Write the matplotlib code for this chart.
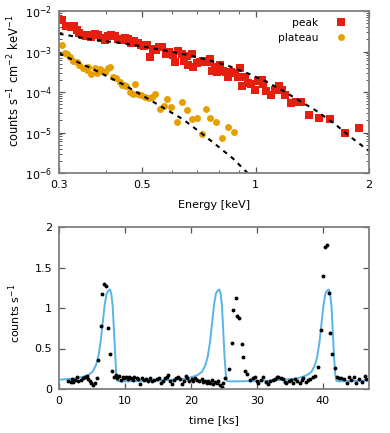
import matplotlib
matplotlib.use('Agg')
import matplotlib.pyplot as plt
from matplotlib.ticker import LogLocator, NullFormatter

# ---- spectrum: peak / plateau (energy in keV, counts s^-1 cm^-2 keV^-1)
peak_E = [0.306, 0.314, 0.322, 0.329, 0.334, 0.340, 0.347, 0.354, 0.360, 0.366,
          0.373, 0.381, 0.389, 0.397, 0.405, 0.413, 0.422, 0.430, 0.439, 0.448,
          0.457, 0.467, 0.476, 0.486, 0.496, 0.506, 0.515, 0.522, 0.533, 0.544,
          0.554, 0.562, 0.577, 0.589, 0.604, 0.610, 0.622, 0.635, 0.644, 0.655,
          0.661, 0.675, 0.682, 0.696, 0.710, 0.725, 0.740, 0.755, 0.763, 0.779,
          0.787, 0.803, 0.819, 0.836, 0.845, 0.862, 0.880, 0.898, 0.907, 0.922,
          0.935, 0.955, 0.974, 0.994, 1.015, 1.036, 1.046, 1.068, 1.101, 1.124,
          1.151, 1.175, 1.199, 1.244, 1.283, 1.323, 1.386, 1.473, 1.573, 1.723,
          1.882]
peak_flux = [5.99e-3, 4.26e-3, 4.10e-3, 4.26e-3, 3.39e-3, 2.91e-3, 2.60e-3, 2.41e-3, 2.60e-3, 2.23e-3,
             2.70e-3, 2.55e-3, 2.19e-3, 1.92e-3, 2.41e-3, 2.60e-3, 2.41e-3, 1.99e-3, 1.92e-3, 2.15e-3,
             1.99e-3, 1.65e-3, 1.85e-3, 1.58e-3, 1.47e-3, 1.36e-3, 1.41e-3, 7.41e-4, 1.17e-3, 1.08e-3,
             1.26e-3, 1.31e-3, 8.63e-4, 9.86e-4, 8.15e-4, 5.37e-4, 1.04e-3, 8.63e-4, 5.90e-4, 7.70e-4,
             4.61e-4, 8.63e-4, 4.04e-4, 5.27e-4, 5.57e-4, 5.90e-4, 5.37e-4, 6.37e-4, 3.34e-4, 4.20e-4,
             3.15e-4, 4.61e-4, 3.34e-4, 3.15e-4, 2.37e-4, 3.15e-4, 2.87e-4, 2.29e-4, 3.82e-4, 1.39e-4,
             2.37e-4, 1.69e-4, 1.62e-4, 1.11e-4, 1.89e-4, 1.96e-4, 1.56e-4, 1.07e-4, 8.35e-5, 1.11e-4,
             1.39e-4, 1.11e-4, 8.35e-5, 5.40e-5, 5.71e-5, 5.82e-5, 2.67e-5, 2.34e-5, 2.13e-5, 9.77e-6,
             1.32e-5]

plat_E = [0.306, 0.311, 0.315, 0.320, 0.327, 0.334, 0.340, 0.347, 0.355, 0.359,
          0.364, 0.373, 0.379, 0.385, 0.391, 0.397, 0.405, 0.409, 0.417, 0.426,
          0.435, 0.441, 0.446, 0.453, 0.462, 0.472, 0.478, 0.486, 0.496, 0.509,
          0.519, 0.530, 0.541, 0.555, 0.570, 0.582, 0.597, 0.616, 0.635, 0.655,
          0.678, 0.699, 0.718, 0.737, 0.758, 0.783, 0.811, 0.845, 0.876]
plat_flux = [1.44e-3, 8.97e-4, 8.47e-4, 7.41e-4, 5.79e-4, 5.57e-4, 4.61e-4, 3.96e-4, 3.47e-4, 4.20e-4,
             2.71e-4, 3.82e-4, 2.87e-4, 3.67e-4, 3.34e-4, 3.04e-4, 3.82e-4, 4.20e-4, 2.37e-4, 2.24e-4,
             1.79e-4, 1.53e-4, 1.48e-4, 1.42e-4, 9.72e-5, 9.18e-5, 1.62e-4, 9.18e-5, 8.67e-5, 7.59e-5,
             7.31e-5, 7.59e-5, 9.18e-5, 3.91e-5, 4.55e-5, 6.65e-5, 4.30e-5, 1.83e-5, 5.71e-5, 3.55e-5,
             2.13e-5, 2.30e-5, 9.41e-6, 3.91e-5, 2.30e-5, 1.83e-5, 7.35e-6, 1.37e-5, 1.03e-5]

# model curves (dashed)
peak_model_E = [0.300, 0.366, 0.448, 0.553, 0.682, 0.836, 0.964, 1.068, 1.182, 1.309,
                1.450, 1.638, 1.777, 2.000]
peak_model_flux = [2.75e-3, 1.99e-3, 1.58e-3, 1.13e-3, 7.70e-4, 4.61e-4, 2.76e-4, 1.79e-4, 1.07e-4, 6.05e-5,
                   3.42e-5, 1.51e-5, 8.08e-6, 3.50e-6]
plat_model_E = [0.300, 0.366, 0.448, 0.549, 0.642, 0.710, 0.787, 0.871, 0.945, 0.984]
plat_model_flux = [8.97e-4, 3.82e-4, 1.48e-4, 4.91e-5, 2.09e-5, 1.03e-5, 4.84e-6, 2.26e-6, 1.06e-6, 7.24e-7]

# ---- light curve (time in ks, counts s^-1)
lc_t = [1.41, 1.77, 1.92, 2.17, 2.42, 2.68, 2.93, 3.33, 3.69, 3.94, 4.19, 4.44, 4.70, 4.85,
        5.20, 5.45, 5.71, 5.96, 6.31, 6.57, 6.87, 7.12, 7.37, 7.73, 8.03, 8.38, 8.64,
        8.84, 9.14, 9.34, 9.65, 9.85, 10.15, 10.40, 10.66, 10.91, 11.16, 11.41, 11.77, 12.02,
        12.27, 12.53, 12.88, 13.18, 13.54, 13.79, 14.09, 14.39, 14.80, 15.20, 15.45, 15.81,
        16.06, 16.31, 16.57, 16.82, 17.07, 17.42, 17.73, 18.08, 18.33, 18.59, 18.94, 19.24,
        19.44, 19.75, 20.10, 20.35, 20.61, 20.96, 21.26, 21.62, 21.87, 22.12, 22.37, 22.63,
        22.88, 23.13, 23.38, 23.64, 23.89, 24.14, 24.39, 24.65, 24.90, 25.15,
        25.81, 26.16, 26.41, 26.77, 27.02, 27.32, 27.68, 27.93, 28.23, 28.54,
        28.94, 29.34, 29.70, 29.95, 30.20, 30.56, 30.96, 31.31, 31.72, 31.97, 32.37, 32.73,
        32.98, 33.23, 33.59, 33.89, 34.24, 34.49, 34.80, 35.10, 35.51, 35.81, 36.11, 36.52,
        36.77, 37.02, 37.42, 37.78, 38.13, 38.54, 38.84,
        39.29, 39.65, 40.05, 40.30, 40.56, 40.96, 41.16, 41.46, 41.82,
        42.17, 42.47, 42.83, 43.18, 43.59, 43.99, 44.34, 44.70, 45.10, 45.51, 46.01, 46.36, 46.62]
lc_rate = [0.103, 0.082, 0.119, 0.090, 0.111, 0.144, 0.103, 0.111, 0.131, 0.144, 0.160, 0.119, 0.103, 0.070,
           0.049, 0.070, 0.131, 0.357, 0.776, 1.179, 1.302, 1.277, 0.747, 0.431, 0.226, 0.144, 0.172,
           0.131, 0.160, 0.111, 0.144, 0.131, 0.152, 0.119, 0.152, 0.131, 0.111, 0.152, 0.131, 0.119,
           0.062, 0.131, 0.111, 0.119, 0.103, 0.131, 0.103, 0.111, 0.119, 0.131, 0.078, 0.103,
           0.131, 0.152, 0.172, 0.103, 0.062, 0.111, 0.131, 0.152, 0.119, 0.062, 0.103, 0.164,
           0.131, 0.103, 0.119, 0.103, 0.131, 0.111, 0.103, 0.119, 0.090, 0.103, 0.078, 0.103,
           0.078, 0.111, 0.062, 0.090, 0.070, 0.103, 0.049, 0.021, 0.078, 0.131,
           0.246, 0.571, 0.973, 1.129, 0.899, 0.871, 0.554, 0.398, 0.222, 0.185,
           0.111, 0.131, 0.144, 0.103, 0.070, 0.111, 0.152, 0.090, 0.062, 0.103, 0.111, 0.127,
           0.144, 0.152, 0.131, 0.119, 0.090, 0.070, 0.103, 0.111, 0.078, 0.119, 0.103, 0.078,
           0.111, 0.131, 0.090, 0.111, 0.119, 0.144, 0.160,
           0.267, 0.727, 1.392, 1.754, 1.774, 1.187, 0.694, 0.431, 0.255,
           0.144, 0.131, 0.131, 0.119, 0.070, 0.144, 0.111, 0.152, 0.078, 0.119, 0.090, 0.160, 0.119]

model_t = [0.00, 2.17, 3.69, 4.44, 5.10, 5.61, 5.96, 6.31, 6.62, 6.92, 7.22, 7.53, 7.73, 7.93,
           8.13, 8.33, 8.54, 8.69, 8.84, 9.24,
           13.0, 16.3, 19.3, 20.3, 21.0, 21.7, 22.2, 22.55, 22.9, 23.2, 23.5, 23.8, 24.1, 24.3,
           24.5, 24.7, 24.9, 25.1, 25.3, 25.45, 25.8,
           30.0, 33.0, 36.0, 37.0, 37.6, 38.3, 38.8, 39.15, 39.5, 39.8, 40.1, 40.4, 40.7, 40.9,
           41.1, 41.3, 41.5, 41.7, 41.9, 42.05, 42.4, 47.0]
model_rate = [0.115, 0.127, 0.152, 0.172, 0.214, 0.296, 0.398, 0.583, 0.809, 1.035, 1.179, 1.220, 1.228, 1.179,
              1.035, 0.727, 0.398, 0.172, 0.100, 0.094,
              0.098, 0.108, 0.128, 0.152, 0.172, 0.214, 0.296, 0.398, 0.583, 0.809, 1.035, 1.179, 1.220, 1.228,
              1.179, 1.035, 0.727, 0.398, 0.172, 0.100, 0.094,
              0.098, 0.108, 0.128, 0.152, 0.172, 0.214, 0.296, 0.398, 0.583, 0.809, 1.035, 1.179, 1.220, 1.228,
              1.179, 1.035, 0.727, 0.398, 0.172, 0.100, 0.094, 0.105]

red = '#e51e10'
orange = '#e69f00'
blue = '#56b4e9'
frame = '#7f7f7f'

plt.rcParams['font.family'] = ['DejaVu Sans']
plt.rcParams['mathtext.default'] = 'regular'
plt.rcParams['font.size'] = 8

fig = plt.figure(figsize=(3.9, 4.33), dpi=100)
ax1 = fig.add_axes([59 / 390, 1 - 173 / 433, 310 / 390, 162 / 433])
ax2 = fig.add_axes([59 / 390, 1 - 389 / 433, 310 / 390, 162 / 433])

# 上图: 能谱
ax1.plot(peak_E, peak_flux, 's', color=red, ms=5.2, mew=0, label='peak')
ax1.plot(plat_E, plat_flux, 'o', color=orange, ms=5.0, mew=0, label='plateau')
ax1.plot(peak_model_E, peak_model_flux, color='black', lw=1.5, dashes=(2.2, 2.4))
ax1.plot(plat_model_E, plat_model_flux, color='black', lw=1.5, dashes=(2.2, 2.4))
ax1.set_xscale('log')
ax1.set_yscale('log')
ax1.set_xlim(0.3, 2)
ax1.set_ylim(1e-6, 1e-2)
ax1.set_xticks([0.3, 0.5, 1, 2])
ax1.set_xticklabels(['0.3', '0.5', '1', '2'])
ax1.set_xticks([0.4, 0.6, 0.7, 0.8, 0.9], minor=True)
ax1.xaxis.set_minor_formatter(NullFormatter())
ax1.set_yticks([1e-6, 1e-5, 1e-4, 1e-3, 1e-2])
ax1.set_yticklabels(['10$^{-6}$', '10$^{-5}$', '10$^{-4}$', '10$^{-3}$', '10$^{-2}$'])
ax1.yaxis.set_minor_locator(LogLocator(base=10, subs=range(2, 10), numticks=20))
ax1.yaxis.set_minor_formatter(NullFormatter())
ax1.set_xlabel('Energy [keV]', va='center')
ax1.xaxis.set_label_coords(0.5, -0.198)
ax1.set_ylabel('counts s$^{-1}$ cm$^{-2}$ keV$^{-1}$', va='center', fontsize=8.3)
ax1.yaxis.set_label_coords(-0.145, 0.57)
ax1.legend(loc='upper right', bbox_to_anchor=(0.926, 0.957), markerfirst=False, frameon=False,
           fontsize=7.7, handlelength=1.0, handletextpad=1.6, borderpad=0, borderaxespad=0,
           labelspacing=0.45, alignment='right')

# 下图: 光变曲线
ax2.plot(model_t, model_rate, color=blue, lw=1.4)
ax2.plot(lc_t, lc_rate, 'o', color='black', ms=2.8, mew=0)
ax2.set_xlim(0, 47)
ax2.set_ylim(0, 2)
ax2.set_xticks([0, 10, 20, 30, 40])
ax2.set_yticks([0, 0.5, 1, 1.5, 2])
ax2.set_yticklabels(['0', '0.5', '1', '1.5', '2'])
ax2.set_xlabel('time [ks]', va='center')
ax2.xaxis.set_label_coords(0.5, -0.191)
ax2.set_ylabel('counts s$^{-1}$', va='center')
ax2.yaxis.set_label_coords(-0.142, 0.47)

for ax in (ax1, ax2):
    for sp in ax.spines.values():
        sp.set_color(frame)
        sp.set_linewidth(1.3)
    ax.tick_params(which='both', direction='in', top=True, right=True, color='#555555', pad=5,
                   labelsize=8)
    ax.tick_params(which='major', length=4, width=0.9)
    ax.tick_params(which='minor', length=2, width=0.7)

fig.savefig('out.png', dpi=100)
